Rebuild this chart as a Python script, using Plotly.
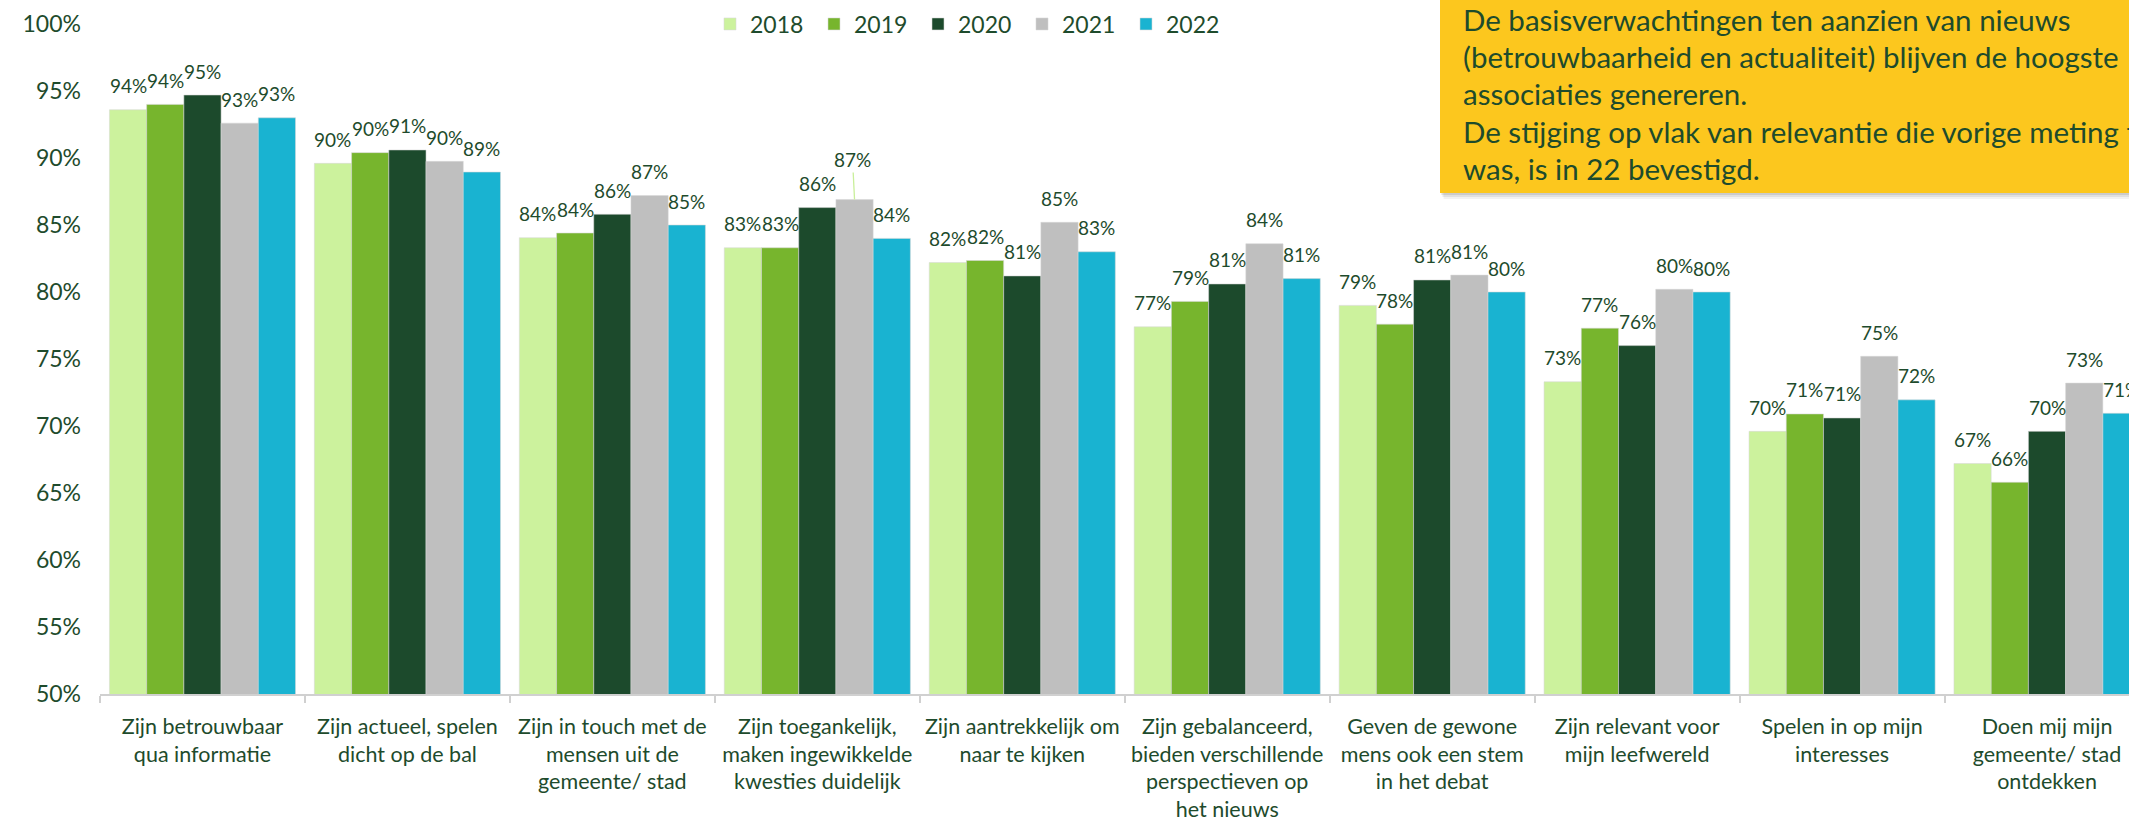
import plotly.graph_objects as go

# ---------------- data ----------------
categories = [
    "Zijn betrouwbaar<br>qua informatie",
    "Zijn actueel, spelen<br>dicht op de bal",
    "Zijn in touch met de<br>mensen uit de<br>gemeente/ stad",
    "Zijn toegankelijk,<br>maken ingewikkelde<br>kwesties duidelijk",
    "Zijn aantrekkelijk om<br>naar te kijken",
    "Zijn gebalanceerd,<br>bieden verschillende<br>perspectieven op<br>het nieuws",
    "Geven de gewone<br>mens ook een stem<br>in het debat",
    "Zijn relevant voor<br>mijn leefwereld",
    "Spelen in op mijn<br>interesses",
    "Doen mij mijn<br>gemeente/ stad<br>ontdekken",
]
years = ["2018", "2019", "2020", "2021", "2022"]
v2018 = [0.936, 0.896, 0.8405, 0.833, 0.822, 0.774, 0.790, 0.733, 0.696, 0.672]
v2019 = [0.940, 0.904, 0.844, 0.833, 0.8235, 0.793, 0.776, 0.773, 0.709, 0.658]
v2020 = [0.947, 0.906, 0.858, 0.863, 0.812, 0.806, 0.809, 0.760, 0.706, 0.696]
v2021 = [0.926, 0.8975, 0.872, 0.869, 0.852, 0.836, 0.8126, 0.802, 0.752, 0.732]
v2022 = [0.930, 0.8895, 0.850, 0.840, 0.830, 0.810, 0.800, 0.800, 0.7195, 0.7095]
series = [v2018, v2019, v2020, v2021, v2022]
y_ticks = [0.50, 0.55, 0.60, 0.65, 0.70, 0.75, 0.80, 0.85, 0.90, 0.95, 1.00]
box_lines = [
    "De basisverwachtingen ten aanzien van nieuws",
    "(betrouwbaarheid en actualiteit) blijven de hoogste",
    "associaties genereren.",
    "De stijging op vlak van relevantie die vorige meting te zien",
    "was, is in 22 bevestigd.",
]
raised_label = (3, 3)  # (category index, series index) label lifted with a leader line

# ---------------- style ----------------
colors = ["#CCF29D", "#77B52D", "#1C4A2C", "#BFBFBF", "#19B3D1"]
TXT = "#1E4B2C"
FONT = "Lato"
W, H = 2129, 822
ML, MR, MT, MB = 100, 0, 24, 128
BARGAP = 0.092
PW, PH = W - ML - MR, H - MT - MB


def px_x(px):
    return (px - ML) / PW


def px_y(py):
    return (H - MB - py) / PH


fig = go.Figure()
for name, vals, col in zip(years, series, colors):
    fig.add_bar(
        name=name, x=categories, y=vals, legendwidth=59,
        marker=dict(color=col, line=dict(width=1, color="rgba(215,215,215,0.55)")),
        hovertemplate="%{y:.0%}<extra>" + name + "</extra>",
    )

# data labels
w = (1 - BARGAP) / len(series)
for j, vals in enumerate(series):
    off = (j - (len(series) - 1) / 2) * w
    for i, v in enumerate(vals):
        if (i, j) == raised_label:
            fig.add_annotation(
                x=i + off, y=v, xref="x", yref="y", text=f"{v:.0%}",
                showarrow=True, arrowhead=0, arrowwidth=1.3, arrowcolor="#C9EF9A",
                ax=-2, ay=-40, standoff=0,
                font=dict(family=FONT, size=19, color=TXT),
            )
        else:
            fig.add_annotation(
                x=i + off, y=v, xref="x", yref="y", text=f"{v:.0%}",
                showarrow=False, xanchor="center", yanchor="middle", yshift=24,
                font=dict(family=FONT, size=19, color=TXT),
            )

# yellow call-out box with soft shadow
bx0, bx1, by0, by1 = 1440, 2160, 193, -10
for d, a in [(6, 0.05), (4, 0.07), (2, 0.09)]:
    fig.add_shape(type="rect", xref="paper", yref="paper",
                  x0=px_x(bx0 + d * 0.6), x1=px_x(bx1 + d), y0=px_y(by0 + d), y1=px_y(by1),
                  line=dict(width=0), fillcolor=f"rgba(0,0,0,{a})", layer="above")
fig.add_shape(type="rect", xref="paper", yref="paper",
              x0=px_x(bx0), x1=px_x(bx1), y0=px_y(by0), y1=px_y(by1),
              line=dict(width=0), fillcolor="#FCC71E", layer="above")
for k, line in enumerate(box_lines):
    fig.add_annotation(
        x=px_x(1461), y=px_y(19 + 37.5 * k), xref="paper", yref="paper",
        text=line, showarrow=False, xanchor="left", yanchor="middle",
        font=dict(family=FONT, size=29.5, color=TXT),
    )

fig.update_layout(
    width=W, height=H,
    margin=dict(l=ML, r=MR, t=MT, b=MB),
    barmode="group", bargap=BARGAP, bargroupgap=0,
    plot_bgcolor="white", paper_bgcolor="white",
    font=dict(family=FONT, color=TXT),
    showlegend=True,
    legend=dict(
        orientation="h", x=px_x(710), xanchor="left", y=px_y(24), yanchor="middle",
        font=dict(family=FONT, size=23, color=TXT), bgcolor="rgba(0,0,0,0)",
    ),
    xaxis=dict(
        type="category", range=[-0.5, 9.40], tickson="boundaries",
        ticks="outside", ticklen=7, tickwidth=1.5, tickcolor="#D0D0D0",
        showline=True, linecolor="#D0D0D0", linewidth=1.5, showgrid=False,
        tickfont=dict(family=FONT, size=21.5, color=TXT), tickangle=0,
        ticklabelstandoff=12, automargin=False,
    ),
    yaxis=dict(
        range=[0.5, 1.0], tickmode="array", tickvals=y_ticks, tickformat=".0%",
        showgrid=False, zeroline=False, showline=False, ticks="",
        ticklabelstandoff=18, automargin=False,
        tickfont=dict(family=FONT, size=23, color=TXT),
    ),
)

fig.write_html("out.html", config={"displayModeBar": False},
               post_script="document.body.style.margin='0px';")
